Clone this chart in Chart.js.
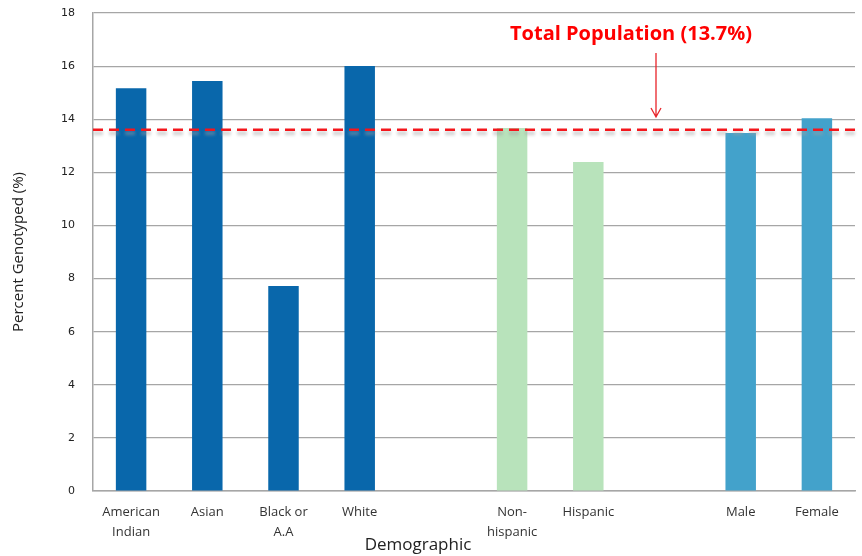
<!DOCTYPE html>
<html>
<head>
<meta charset="utf-8">
<script src="https://cdn.jsdelivr.net/npm/chart.js@4.4.0/dist/chart.umd.min.js"></script>
<style>
  body { margin: 0; background: #fff; }
  #wrap { width: 862px; height: 556px; }
</style>
</head>
<body>
<div id="wrap"><canvas id="barChart"></canvas></div>
<script>
// categories (empty slots are the gaps between groups)
const labels = [["American", "Indian"], "Asian", ["Black or", "A.A"], "White", "",
                ["Non-", "hispanic"], "Hispanic", "", "Male", "Female"];
const values = [15.17, 15.44, 7.72, 16.0, null, 13.67, 12.39, null, 13.48, 14.04];
const colors = ["#0967AB", "#0967AB", "#0967AB", "#0967AB", "#fff",
                "#B8E3BB", "#B8E3BB", "#fff", "#43A2CB", "#43A2CB"];
const yTicks = [0, 2, 4, 6, 8, 10, 12, 14, 16, 18];
const totalPop = 13.6;
const totalLabel = "Total Population (13.7%)";

// dashed reference line, arrow and the extra texts
const extras = {
    id: 'extras',
    afterDatasetsDraw(chart) {
        const { ctx, chartArea, scales } = chart;
        const y = scales.y.getPixelForValue(totalPop);
        ctx.save();
        // grey shadow line
        ctx.strokeStyle = 'rgba(160,160,160,0.45)';
        ctx.lineWidth = 4;
        ctx.setLineDash([10, 6]);
        ctx.filter = 'blur(1.5px)';
        ctx.beginPath();
        ctx.moveTo(chartArea.left, y + 3.5);
        ctx.lineTo(chartArea.right, y + 3.5);
        ctx.stroke();
        ctx.filter = 'none';
        // red line
        ctx.strokeStyle = '#F4161C';
        ctx.lineWidth = 2.5;
        ctx.beginPath();
        ctx.moveTo(chartArea.left, y);
        ctx.lineTo(chartArea.right, y);
        ctx.stroke();
        ctx.setLineDash([]);

        // arrow
        const ax = 656;
        ctx.strokeStyle = '#E8242A';
        ctx.lineWidth = 1.3;
        ctx.beginPath();
        ctx.moveTo(ax, 53);
        ctx.lineTo(ax, 117);
        ctx.moveTo(ax - 5, 108);
        ctx.lineTo(ax, 117);
        ctx.lineTo(ax + 5, 108);
        ctx.stroke();

        // label
        ctx.fillStyle = '#FF0000';
        ctx.font = 'bold 20px "Open Sans", sans-serif';
        ctx.textAlign = 'center';
        ctx.textBaseline = 'middle';
        ctx.fillText(totalLabel, 631, 34);

        // axis titles
        ctx.fillStyle = '#222';
        ctx.font = '17px "Open Sans", sans-serif';
        ctx.fillText('Demographic', 418, 545);
        ctx.translate(19, 252);
        ctx.rotate(-Math.PI / 2);
        ctx.font = '15px "Open Sans", sans-serif';
        ctx.fillText('Percent Genotyped (%)', 0, 0);
        ctx.restore();
    }
};

const ctx = document.getElementById('barChart').getContext('2d');
new Chart(ctx, {
    type: 'bar',
    data: {
        labels: labels,
        datasets: [{
            data: values,
            backgroundColor: colors,
            barPercentage: 0.8,
            categoryPercentage: 0.5
        }]
    },
    options: {
        responsive: true,
        maintainAspectRatio: false,
        animation: false,
        layout: { padding: { top: 13, right: 7, left: 0, bottom: 0 } },
        plugins: { legend: { display: false }, tooltip: { enabled: false } },
        scales: {
            x: {
                grid: { display: false, drawTicks: false },
                border: { color: '#A6A6A6', width: 1.5 },
                ticks: {
                    color: '#333',
                    font: { family: '"Open Sans", sans-serif', size: 13, lineHeight: 1.5 },
                    maxRotation: 0,
                    autoSkip: false,
                    padding: 12
                },
                afterFit(scale) {
                    scale.height = 556 - 491;
                    scale.paddingLeft = 0;
                    scale.paddingRight = 0;
                }
            },
            y: {
                min: 0,
                max: 18,
                afterBuildTicks(scale) { scale.ticks = yTicks.map(v => ({ value: v })); },
                grid: { color: '#A6A6A6', lineWidth: 1.2, drawTicks: false },
                border: { color: '#A6A6A6', width: 1.5 },
                ticks: {
                    color: '#222',
                    font: { family: '"DejaVu Sans", sans-serif', size: 11 },
                    padding: 18
                },
                afterFit(scale) {
                    scale.width = 93;
                    scale.paddingTop = 0;
                    scale.paddingBottom = 0;
                }
            }
        }
    },
    plugins: [extras]
});
</script>
</body>
</html>
